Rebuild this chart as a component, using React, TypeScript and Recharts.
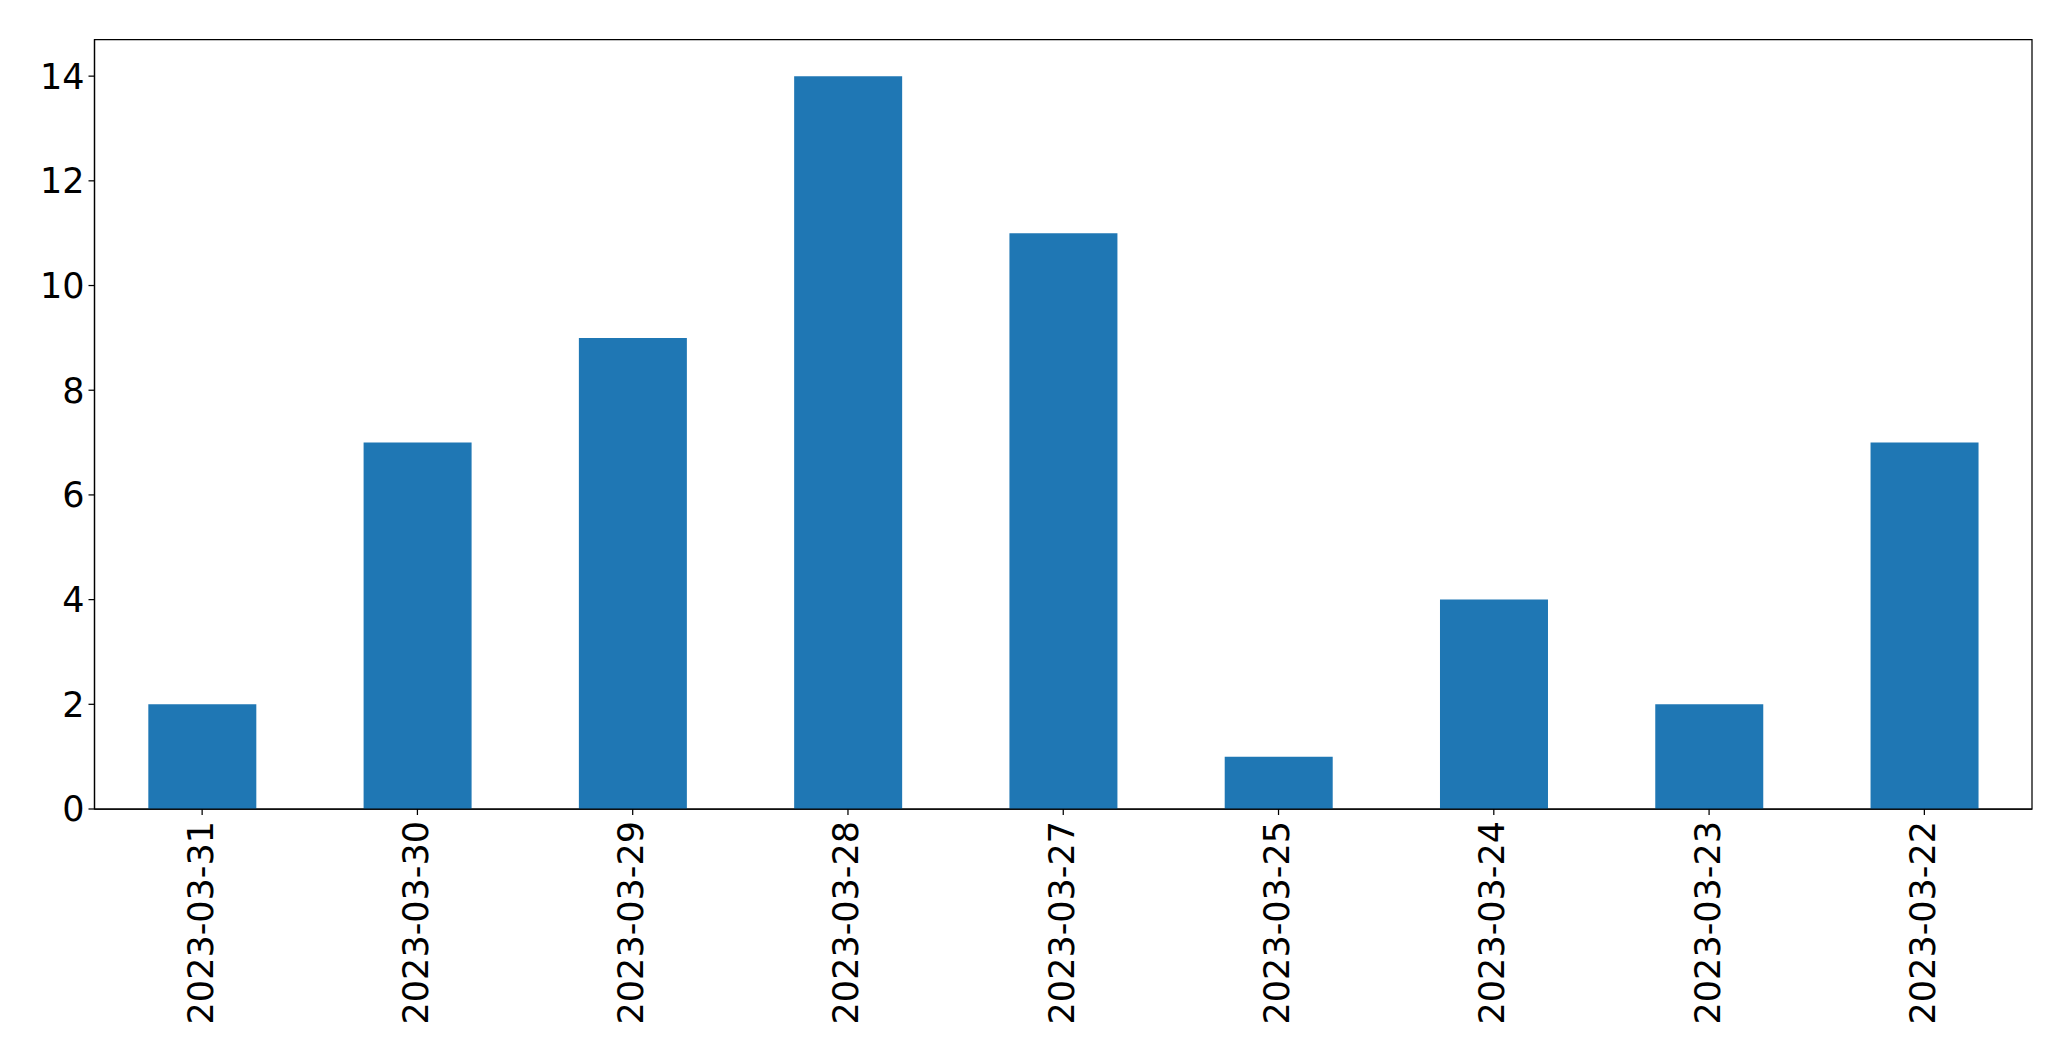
import React from 'react';
import { Bar, BarChart, ReferenceArea, XAxis, YAxis } from 'recharts';

const dates = [
	'2023-03-31',
	'2023-03-30',
	'2023-03-29',
	'2023-03-28',
	'2023-03-27',
	'2023-03-25',
	'2023-03-24',
	'2023-03-23',
	'2023-03-22',
];
const counts = [2, 7, 9, 14, 11, 1, 4, 2, 7];
const yTicks = [0, 2, 4, 6, 8, 10, 12, 14];
const yMax = 14.7;

const data = dates.map((date, i) => ({ date, count: counts[i] }));

const FONT = '"DejaVu Sans", sans-serif';
const FONT_SIZE = 35;

const DateTick = (props: any) => {
	const { x, y, payload } = props;
	return (
		<text
			x={x}
			y={y}
			transform={`rotate(-90, ${x}, ${y})`}
			textAnchor="end"
			dy="0.3em"
			fontSize={FONT_SIZE}
			fontFamily={FONT}
			fill="#000">
			{payload.value}
		</text>
	);
};

const App: React.FC = () => {
	return (
		<div style={{ position: 'absolute', left: 0, top: 0, background: '#fff' }}>
			<BarChart
				width={2071}
				height={1061}
				data={data}
				barCategoryGap="25%"
				margin={{ top: 39.5, right: 39, left: 0, bottom: 0 }}>
				<XAxis
					dataKey="date"
					height={252}
					interval={0}
					tickSize={6}
					tickMargin={6}
					stroke="#000"
					strokeWidth={1.25}
					tickLine={{ stroke: '#000', strokeWidth: 1.25 }}
					tick={<DateTick />}
				/>
				<YAxis
					width={94.5}
					domain={[0, yMax]}
					ticks={yTicks}
					tickSize={6}
					tickMargin={4}
					stroke="#000"
					strokeWidth={1.25}
					tickLine={{ stroke: '#000', strokeWidth: 1.25 }}
					tick={{ fontSize: FONT_SIZE, fontFamily: FONT, fill: '#000' }}
				/>
				<Bar dataKey="count" fill="#1f77b4" isAnimationActive={false} />
				<ReferenceArea
					y1={0}
					y2={yMax}
					fill="none"
					stroke="#000"
					strokeWidth={1.25}
					fillOpacity={0}
				/>
			</BarChart>
		</div>
	);
};

export default App;
